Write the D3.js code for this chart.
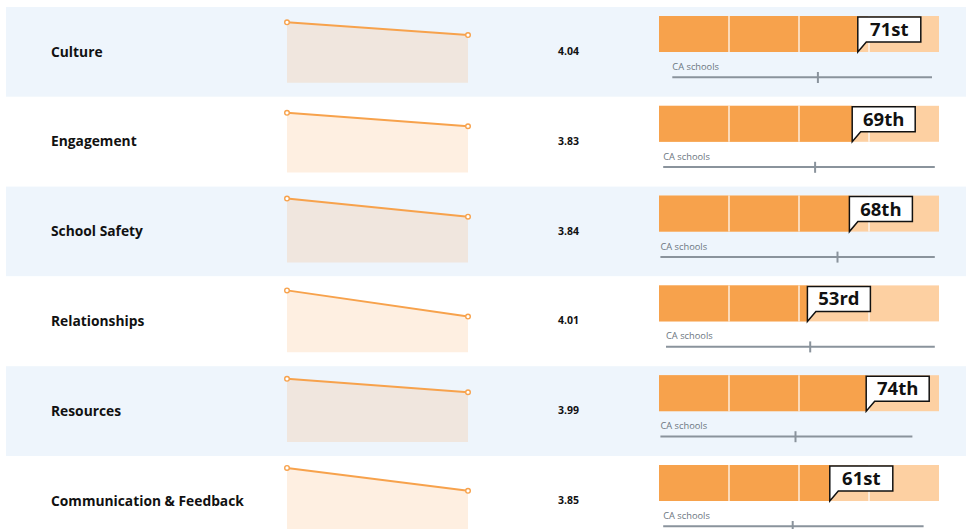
<!DOCTYPE html>
<html>
<head>
<meta charset="utf-8">
<script src="https://cdn.jsdelivr.net/npm/d3@7"></script>
<style>
  html, body { margin: 0; padding: 0; background: #fff; }
  svg { display: block; font-family: "Open Sans", "Noto Sans", sans-serif; }
</style>
</head>
<body>
<svg id="chart" width="966" height="529"></svg>
<script>
// ---- data ----
const categories = ["Culture", "Engagement", "School Safety", "Relationships", "Resources", "Communication & Feedback"];
const scores = [4.04, 3.83, 3.84, 4.01, 3.99, 3.85];
const percentiles = [71, 69, 68, 53, 74, 61];
const percentileLabels = ["71st", "69th", "68th", "53rd", "74th", "61st"];
// percentile trend (earlier year -> current year)
const trendPrev = [90, 89, 95, 92, 94, 95];
const trendCurr = [71, 69, 68, 53, 74, 61];
// CA schools distribution (score units)
const caMin = [1.19, 1.06, 1.02, 1.10, 1.02, 1.06];
const caMax = [4.90, 4.94, 4.94, 4.94, 4.62, 4.78];
const caMark = [3.27, 3.23, 3.55, 3.16, 2.95, 2.91];
const quartiles = [25, 50, 75];

// ---- layout ----
const W = 966, H = 529;
const top0 = 7, rowH = 89.8;
const orange = "#f7a24c", lightOrange = "#fdd0a2";
const svg = d3.select("#chart");

const rowY = d3.scaleLinear().domain([0, 1]).range([top0, top0 + rowH]);
const sparkX = d3.scalePoint().domain([0, 1]).range([287, 468]);
const sparkY = d3.scaleLinear().domain([0, 100]).range([75.8, 8.6]);
const barX = d3.scaleLinear().domain([0, 100]).range([659, 939]);
const caX = d3.scaleLinear().domain([1, 5]).range([659, 939]);

const rows = categories.map((c, i) => ({
  name: c, score: scores[i], pct: percentiles[i], label: percentileLabels[i],
  trend: [trendPrev[i], trendCurr[i]], caMin: caMin[i], caMax: caMax[i], caMark: caMark[i], i
}));

const g = svg.selectAll("g.row").data(rows).join("g")
  .attr("class", "row")
  .attr("transform", d => `translate(0,${rowY(d.i)})`);

// background
g.append("rect")
  .attr("x", 6).attr("y", 0).attr("width", W - 6).attr("height", rowH)
  .attr("fill", d => d.i % 2 === 0 ? "#eef5fc" : "#ffffff");

// category label
g.append("text")
  .attr("x", 51).attr("y", 49.5)
  .attr("font-size", 13.8).attr("font-weight", 700).attr("fill", "#111")
  .text(d => d.name);

// sparkline area + line
const area = d3.area().x((v, j) => sparkX(j)).y0(sparkY(0)).y1(v => sparkY(v));
const line = d3.line().x((v, j) => sparkX(j)).y(v => sparkY(v));
g.append("path").attr("d", d => area(d.trend)).attr("fill", orange).attr("fill-opacity", 0.17);
g.append("path").attr("d", d => line(d.trend)).attr("fill", "none").attr("stroke", orange).attr("stroke-width", 2);
g.selectAll("circle.pt").data(d => d.trend).join("circle")
  .attr("class", "pt")
  .attr("cx", (v, j) => sparkX(j)).attr("cy", v => sparkY(v)).attr("r", 2.3)
  .attr("fill", "#fff").attr("stroke", orange).attr("stroke-width", 1.4);

// score value
g.append("text")
  .attr("x", 558).attr("y", 48)
  .attr("font-size", 10.5).attr("font-weight", 700).attr("fill", "#111")
  .text(d => d.score.toFixed(2));

// percentile bar
const barTop = 9, barH = 36;
g.append("rect")
  .attr("x", barX(0)).attr("y", barTop).attr("width", barX(100) - barX(0)).attr("height", barH)
  .attr("fill", lightOrange);
g.append("rect")
  .attr("x", barX(0)).attr("y", barTop).attr("width", d => barX(d.pct) - barX(0)).attr("height", barH)
  .attr("fill", orange);
g.selectAll("line.q").data(quartiles).join("line")
  .attr("class", "q")
  .attr("x1", q => barX(q)).attr("x2", q => barX(q))
  .attr("y1", barTop).attr("y2", barTop + barH)
  .attr("stroke", "#fff").attr("stroke-opacity", 0.8).attr("stroke-width", 1.5);

// callout
const boxW = 63, boxTop = barTop + 1, boxH = 25, tailW = 8.5;
g.append("path")
  .attr("d", d => {
    const px = barX(d.pct);
    return `M${px},${boxTop}H${px + boxW}V${boxTop + boxH}H${px + tailW}L${px},${barTop + barH}Z`;
  })
  .attr("fill", "#fff").attr("stroke", "#111").attr("stroke-width", 1.5).attr("stroke-linejoin", "miter");
g.append("text")
  .attr("x", d => barX(d.pct) + boxW / 2).attr("y", 29)
  .attr("text-anchor", "middle")
  .attr("font-size", 18.5).attr("font-weight", 700).attr("fill", "#111")
  .text(d => d.label);

// CA schools distribution
g.append("text")
  .attr("x", d => caX(d.caMin)).attr("y", 63)
  .attr("font-size", 9.3).attr("fill", "#6b7580")
  .text("CA schools");
g.append("line")
  .attr("x1", d => caX(d.caMin)).attr("x2", d => caX(d.caMax))
  .attr("y1", 70.3).attr("y2", 70.3)
  .attr("stroke", "#8a939c").attr("stroke-width", 2);
g.append("line")
  .attr("x1", d => caX(d.caMark)).attr("x2", d => caX(d.caMark))
  .attr("y1", 65).attr("y2", 76)
  .attr("stroke", "#8a939c").attr("stroke-width", 2);
</script>
</body>
</html>
